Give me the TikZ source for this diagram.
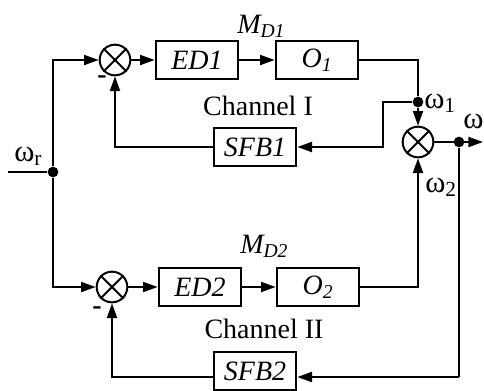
\documentclass[tikz,border=0pt]{standalone}
\usepackage{fontspec}
\setmainfont{Liberation Serif}
\usetikzlibrary{arrows.meta, positioning, calc}

\begin{document}
\begin{tikzpicture}[
    x=0.75pt, y=-0.75pt,
    every node/.style={font=\fontsize{21}{25}\selectfont},
    block/.style={rectangle, draw=black, line width=1.5pt, minimum width=62pt, minimum height=28pt, inner sep=0pt, font=\fontsize{21}{25}\selectfont\itshape},
    sum/.style={circle, draw=black, line width=1.5pt, minimum size=23pt, inner sep=0pt},
    arrow/.style={-{Triangle[length=11pt, width=7.5pt]}, line width=1.5pt},
    wire/.style={line width=1.5pt},
    dot/.style={circle, fill=black, inner sep=0pt, minimum size=8pt},
    lbl/.style={inner sep=0pt, anchor=base west},
    omega/.style={lbl, font=\fontsize{23}{27}\selectfont},
    sign/.style={font=\fontsize{21}{25}\selectfont\bfseries, inner sep=0pt}
]
    % Frame
    \useasboundingbox (0,0) rectangle (484,390);

    % Channel I
    \node[sum] (sum1) at (115,60) {};
    \node[block] (ed1) at (197,60) {ED1};
    \node[block] (o1) at (317,60) {O\textsubscript{1}};
    \node[block] (sfb1) at (255,147) {SFB1};

    % Channel II
    \node[sum] (sum3) at (112,287) {};
    \node[block] (ed2) at (200,287) {ED2};
    \node[block] (o2) at (318,287) {O\textsubscript{2}};
    \node[block] (sfb2) at (255,371) {SFB2};

    % Output junction
    \node[sum] (sum2) at (418,142) {};

    % Crosses in the junctions
    \foreach \s in {sum1,sum2,sum3}
        \draw[wire] (\s.north west) -- (\s.south east) (\s.north east) -- (\s.south west);

    % Branch points
    \node[dot] (split) at (53,172) {};
    \node[dot] (tap1) at (418,102) {};
    \node[dot] (tapout) at (459,142) {};
    \coordinate (in) at (8,172);
    \coordinate (out) at (483,142);
    \coordinate (fb1) at (383,102);
    \coordinate (fb2) at (459,377);

    % Forward paths
    \draw[wire] (in) -- (split);
    \draw[arrow] (split) |- (sum1);
    \draw[arrow] (split) |- (sum3);
    \draw[arrow] (sum1) -- (ed1);
    \draw[arrow] (ed1) -- (o1);
    \draw[wire] (o1) -| (tap1);
    \draw[arrow] (tap1) -- (sum2);
    \draw[arrow] (sum3) -- (ed2);
    \draw[arrow] (ed2) -- (o2);
    \draw[arrow] (o2) -| (sum2);
    \draw[arrow] (sum2) -- (out);

    % Feedback paths
    \draw[arrow] (tap1) -- (fb1) |- (sfb1);
    \draw[arrow] (sfb1) -| (sum1);
    \draw[wire] (tapout) -- (fb2);
    \draw[arrow] (fb2) -- (sfb2.east |- fb2);
    \draw[arrow] (sfb2.west |- fb2) -| (sum3);

    % Labels
    \node[lbl] (md1) at (237,33) {\itshape M\textsubscript{D1}};
    \node[lbl] (md2) at (240,253) {\itshape M\textsubscript{D2}};
    \node[anchor=base] (ch1) at (258,115) {Channel I};
    \node[anchor=base] (ch2) at (264,338) {Channel II};
    \node[omega] (w1) at (424,108) {ω\textsubscript{1}};
    \node[omega] (w2) at (425,192) {ω\textsubscript{2}};
    \node[omega] (w) at (463,128) {ω};
    \node[omega] (wr) at (14,161) {ω\textsubscript{r}};
    \node[sign] (m1) at (102,80) {-};
    \node[sign] (m2) at (97,311) {-};

\end{tikzpicture}
\end{document}
